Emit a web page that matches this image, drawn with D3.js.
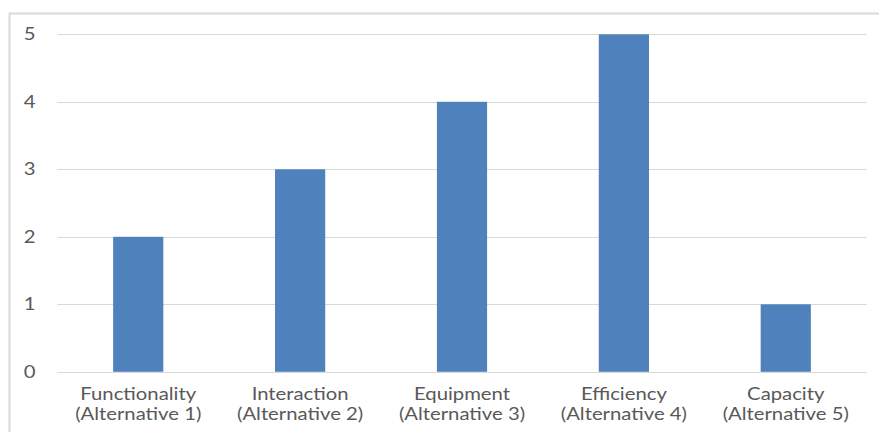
<!DOCTYPE html>
<html>
<head>
<meta charset="utf-8">
<script src="https://cdn.jsdelivr.net/npm/d3@7"></script>
<style>
  html, body { margin: 0; padding: 0; background: #fff; }
  svg { display: block; }
</style>
</head>
<body>
<svg id="chart" width="879" height="432"></svg>
<script>
// Scores per alternative
const categories = ["Functionality", "Interaction", "Equipment", "Efficiency", "Capacity"];
const subLabels = ["(Alternative 1)", "(Alternative 2)", "(Alternative 3)", "(Alternative 4)", "(Alternative 5)"];
const values = [2, 3, 4, 5, 1];
const yTicks = [0, 1, 2, 3, 4, 5];

const svg = d3.select("#chart");
const W = 879, H = 432;
const plot = { left: 57.3, right: 866.7, top: 34.3, bottom: 371.8 };
const font = "Lato, 'Open Sans', sans-serif";
const fontSize = "16.5px";
const stretch = "scale(1.23,1)";   // wide label lettering
const textColor = "#595959";

// chart area frame
svg.append("rect")
  .attr("x", 9.5).attr("y", 13.5)
  .attr("width", W + 10).attr("height", H + 10)
  .attr("fill", "#fff")
  .attr("stroke", "#d9d9d9").attr("stroke-width", 2);

const x = d3.scaleBand()
  .domain(categories)
  .range([plot.left, plot.right])
  .paddingInner(0.69).paddingOuter(0.345);

const y = d3.scaleLinear().domain([0, 5]).range([plot.bottom, plot.top]);

// horizontal gridlines
svg.append("g")
  .selectAll("line")
  .data(yTicks)
  .join("line")
  .attr("x1", plot.left).attr("x2", plot.right)
  .attr("y1", d => Math.round(y(d)) + 0.5).attr("y2", d => Math.round(y(d)) + 0.5)
  .attr("stroke", "#d9d9d9").attr("stroke-width", 1.2);

// y-axis labels
const yAxis = d3.axisLeft(y).tickValues(yTicks).tickSize(0).tickPadding(0).tickFormat(d3.format("d"));
const gy = svg.append("g").attr("transform", `translate(35.5,0)`).call(yAxis);
gy.select(".domain").remove();
gy.selectAll("text")
  .attr("fill", textColor)
  .attr("transform", stretch)
  .style("font-family", font).style("font-size", fontSize);

// bars
svg.append("g")
  .selectAll("rect")
  .data(values)
  .join("rect")
  .attr("x", (d, i) => x(categories[i]))
  .attr("width", x.bandwidth())
  .attr("y", d => y(d))
  .attr("height", d => y(0) - y(d))
  .attr("fill", "#4f81bd");

// category labels (two lines)
const xAxis = d3.axisBottom(x).tickSize(0).tickPadding(0);
const gx = svg.append("g").attr("transform", `translate(0,${plot.bottom})`).call(xAxis);
gx.select(".domain").remove();
gx.selectAll(".tick text").remove();
gx.selectAll(".tick").each(function (d, i) {
  const t = d3.select(this).append("text")
    .attr("text-anchor", "middle")
    .attr("transform", stretch)
    .attr("fill", textColor)
    .style("font-family", font).style("font-size", fontSize);
  t.append("tspan").attr("x", 0).attr("y", 28.5).text(d);
  t.append("tspan").attr("x", 0).attr("y", 48.5).text(subLabels[i]);
});
</script>
</body>
</html>
